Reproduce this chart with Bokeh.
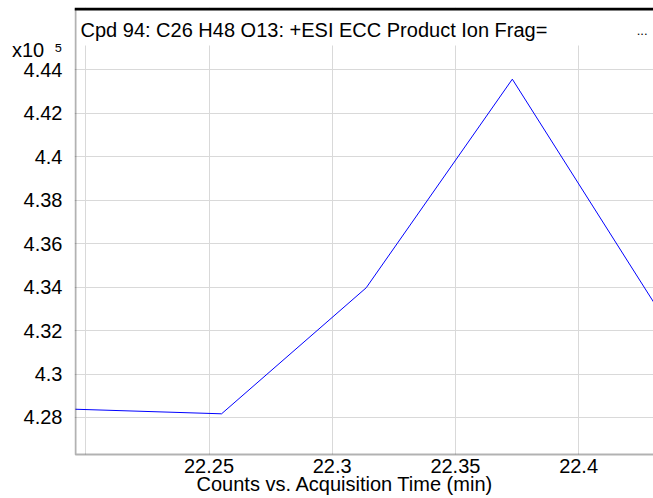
from bokeh.plotting import figure
from bokeh.models import Range1d, FixedTicker, Label, BoxAnnotation, Span
from bokeh.embed import file_html
from bokeh.resources import INLINE

# ---- data ----
acq_time = [22.1958, 22.2551, 22.3138, 22.3731, 22.4324]
counts = [428380, 428170, 433970, 443570, 432960]
x_ticks = [22.2, 22.25, 22.3, 22.35, 22.4]
x_tick_labels = ["", "22.25", "22.3", "22.35", "22.4"]
y_ticks = [4.28, 4.30, 4.32, 4.34, 4.36, 4.38, 4.40, 4.42, 4.44]
y_tick_labels = ["4.28", "4.3", "4.32", "4.34", "4.36", "4.38", "4.4", "4.42", "4.44"]
exponent_pos = 4.4489
exponent_label = "x10\u2002\u2075"
title_text = "Cpd 94: C26 H48 O13: +ESI ECC Product Ion Frag="
x_title = "Counts vs. Acquisition Time (min)"

scaled = [c / 1e5 for c in counts]

FONT = "Liberation Sans"
# frame limits and box border positions (axis units)
X_FRAME0, X_BORDER, X1 = 22.19541, 22.19582, 22.43040
Y_FRAME0, Y_BORDER_BOT = 4.242724, 4.262973
Y_BORDER_TOP, Y_FRAME1 = 4.467989, 4.468679
Y_DATA_TOP = 4.451192

p = figure(width=653, height=498, output_backend="svg", toolbar_location=None,
           x_range=Range1d(X_FRAME0, X1), y_range=Range1d(Y_FRAME0, Y_FRAME1),
           min_border_left=74, min_border_right=0, min_border_top=7,
           min_border_bottom=0)
p.outline_line_color = None
p.background_fill_color = "white"

# grid
p.xgrid.ticker = FixedTicker(ticks=x_ticks)
p.ygrid.ticker = FixedTicker(ticks=y_ticks)
for g in (p.xgrid, p.ygrid):
    g.grid_line_color = "#d9d9d9"
    g.grid_line_width = 1

# axes
p.xaxis.ticker = FixedTicker(ticks=x_ticks)
p.xaxis.fixed_location = Y_BORDER_BOT
p.yaxis.ticker = FixedTicker(ticks=y_ticks + [exponent_pos])
p.xaxis.major_label_overrides = {t: l for t, l in zip(x_ticks, x_tick_labels)}
y_over = {t: l for t, l in zip(y_ticks, y_tick_labels)}
y_over[exponent_pos] = exponent_label
p.yaxis.major_label_overrides = y_over
for ax in (p.xaxis[0], p.yaxis[0]):
    ax.axis_line_color = None
    ax.major_tick_in = 0
    ax.major_tick_out = 0
    ax.minor_tick_line_color = None
    ax.major_label_text_font = FONT
    ax.major_label_text_font_size = "20px"
    ax.major_label_text_color = "black"
p.xaxis.major_label_standoff = 5
p.yaxis.major_label_standoff = 12

# covers for the areas outside the plotting region (under the data)
p.add_layout(BoxAnnotation(bottom=Y_DATA_TOP, fill_color="white", fill_alpha=1.0,
                           line_color=None, level="underlay"))
p.add_layout(BoxAnnotation(top=Y_BORDER_BOT, fill_color="white", fill_alpha=1.0,
                           line_color=None, level="underlay"))

# data line
p.line(acq_time, scaled, line_color="#0000ff", line_width=1)

# box borders (left, bottom, top)
p.add_layout(BoxAnnotation(left=X_BORDER, right=X1 + 0.05, bottom=Y_BORDER_BOT,
                           top=Y_BORDER_TOP, fill_alpha=0.0, line_color="black",
                           line_width=2))
p.add_layout(Span(location=Y_BORDER_TOP, dimension="width", line_color="black", line_width=3))

# title text
p.add_layout(Label(x=X_BORDER, y=Y_FRAME1, x_offset=5, y_offset=-22.5, text=title_text,
                   text_font=FONT, text_font_size="20px", text_color="black",
                   text_baseline="alphabetic", text_align="left"))
p.add_layout(Label(x=X1, y=Y_FRAME1, x_offset=-6, y_offset=-22.5, text="...",
                   text_font=FONT, text_font_size="13px", text_color="black",
                   text_baseline="alphabetic", text_align="right"))

# x axis title
p.add_layout(Label(x=X_BORDER, y=Y_BORDER_BOT, x_offset=121, y_offset=-30, text=x_title,
                   text_font=FONT, text_font_size="20px", text_color="black",
                   text_baseline="alphabetic", text_align="left"))

open("out.html", "w").write(file_html(p, INLINE))
